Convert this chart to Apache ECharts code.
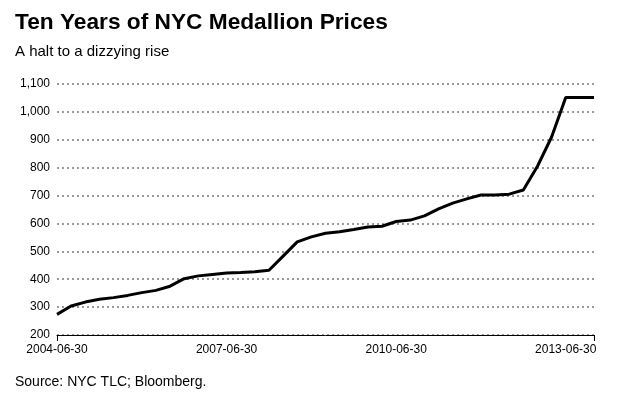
<!DOCTYPE html>
<html>
<head>
<meta charset="utf-8">
<script src="https://cdn.jsdelivr.net/npm/echarts@6/dist/echarts.min.js"></script>
<style>
html,body{margin:0;padding:0;background:#fff;}
#c{width:630px;height:400px;}
</style>
</head>
<body>
<div id="c"></div>
<script>
var categories = [
 "2004-06-30","2004-09-30","2004-12-31","2005-03-31",
 "2005-06-30","2005-09-30","2005-12-31","2006-03-31",
 "2006-06-30","2006-09-30","2006-12-31","2007-03-31",
 "2007-06-30","2007-09-30","2007-12-31","2008-03-31",
 "2008-06-30","2008-09-30","2008-12-31","2009-03-31",
 "2009-06-30","2009-09-30","2009-12-31","2010-03-31",
 "2010-06-30","2010-09-30","2010-12-31","2011-03-31",
 "2011-06-30","2011-09-30","2011-12-31","2012-03-31",
 "2012-06-30","2012-09-30","2012-12-31","2013-03-31",
 "2013-06-30","2013-09-30","2013-12-31"
];
var prices = [
 274,304,318,328,
 334,342,352,360,
 375,402,412,417,
 422,424,427,432,
 483,534,552,565,
 570,578,587,590,
 607,612,627,652,
 673,688,702,702,
 705,720,805,910,
 1052,1052,1052
];
var yTicks = [200,300,400,500,600,700,800,900,1000,1100];

var chart = echarts.init(document.getElementById('c'), null, {renderer:'canvas'});
var FONT = 'Liberation Sans, Arial, Helvetica, sans-serif';
var lastIdx = categories.length - 1;
chart.setOption({
  backgroundColor:'#fff',
  animation:false,
  textStyle:{fontFamily:FONT},
  title:[
    {text:'Ten Years of NYC Medallion Prices', left:15, top:11, padding:0,
     textStyle:{fontFamily:FONT, fontSize:22.7, fontWeight:'bold', color:'#000'}},
    {text:'A halt to a dizzying rise', left:15, top:44, padding:0,
     textStyle:{fontFamily:FONT, fontSize:15, fontWeight:'normal', color:'#000'}},
    {text:'Source: NYC TLC; Bloomberg.', left:15, top:375, padding:0,
     textStyle:{fontFamily:FONT, fontSize:14, fontWeight:'normal', color:'#000'}}
  ],
  grid:{left:57, right:36, top:84, bottom:65, containLabel:false},
  xAxis:{
    type:'category',
    data:categories,
    boundaryGap:false,
    axisLine:{show:true, lineStyle:{color:'#000', width:1}},
    axisTick:{show:true, length:6, lineStyle:{color:'#000', width:1},
      interval:function(i){return i===0 || i===lastIdx;}},
    axisLabel:{color:'#000', fontSize:12, fontFamily:FONT, margin:9,
      interval:function(i){return i%12===0;}},
    splitLine:{show:false}
  },
  yAxis:{
    type:'value',
    min:yTicks[0], max:yTicks[yTicks.length-1], interval:100,
    axisLine:{show:false},
    axisTick:{show:false},
    axisLabel:{color:'#000', fontSize:12, fontFamily:FONT, margin:7,
      formatter:function(v){return v.toLocaleString('en-US');}},
    splitLine:{show:true, lineStyle:{color:'#999', type:[2,3], width:2}}
  },
  series:[{
    type:'line',
    data:prices,
    showSymbol:false,
    symbol:'none',
    lineStyle:{color:'#000', width:3},
    z:5
  }]
});
</script>
</body>
</html>
